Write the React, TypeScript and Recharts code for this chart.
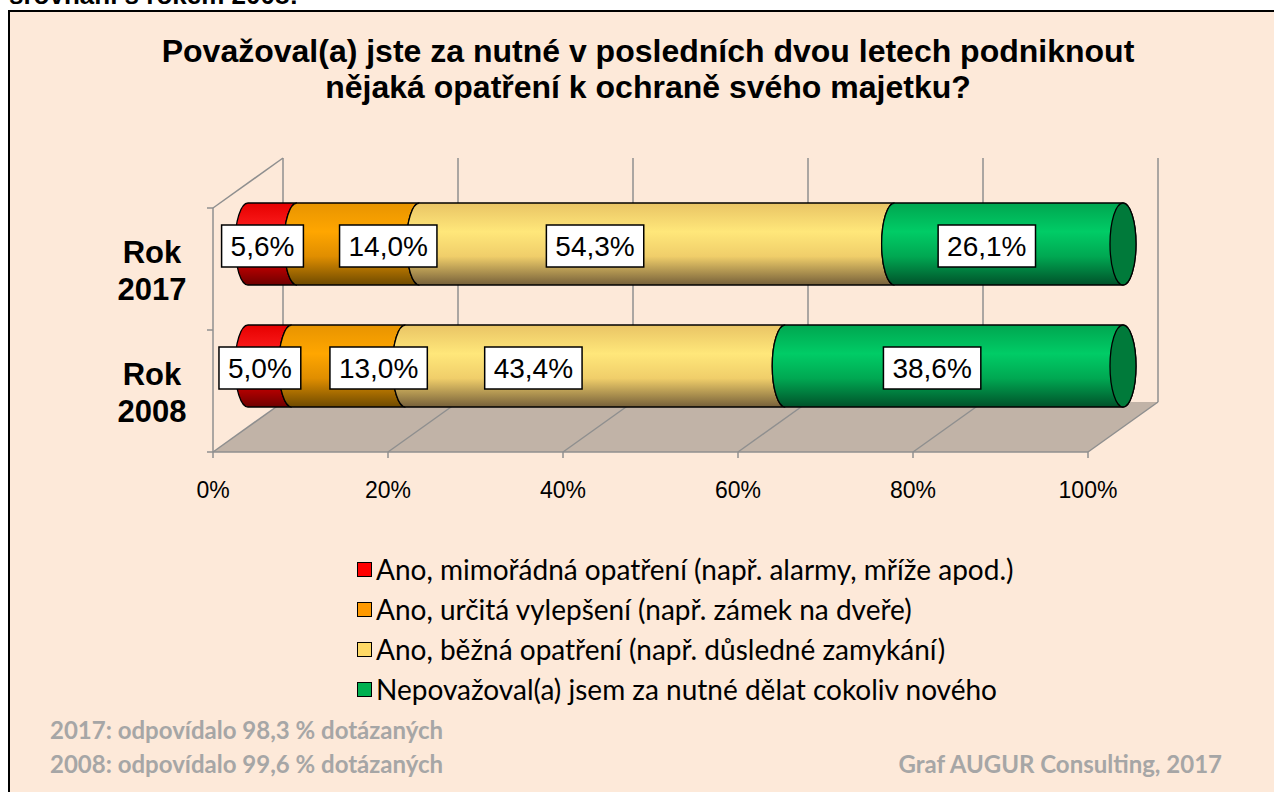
import React from 'react'
import { BarChart, Bar, XAxis, YAxis, ReferenceArea, LabelList, Legend } from 'recharts'

// Survey answers, share of respondents in %
const years = ['Rok 2017', 'Rok 2008']
const extraordinary = [5.6, 5.0]
const improvements = [14.0, 13.0]
const usual = [54.3, 43.4]
const nothing = [26.1, 38.6]
const xTicks = [0, 20, 40, 60, 80, 100]

const data = years.map((year, i) => ({
  year,
  extraordinary: extraordinary[i],
  improvements: improvements[i],
  usual: usual[i],
  nothing: nothing[i],
}))

interface SeriesStyle {
  key: string
  name: string
  color: string
  stops: string[]
  labelShift: number
  cap?: string
}

const series: SeriesStyle[] = [
  {
    key: 'extraordinary',
    name: 'Ano, mimořádná opatření (např. alarmy, mříže apod.)',
    color: '#FF0000',
    stops: ['#E60000', '#FF2020', '#E00000', '#6E0000'],
    labelShift: -10,
  },
  {
    key: 'improvements',
    name: 'Ano, určitá vylepšení (např. zámek na dveře)',
    color: '#FF9900',
    stops: ['#E89400', '#FFA600', '#E08E00', '#6E4A00'],
    labelShift: 30,
  },
  {
    key: 'usual',
    name: 'Ano, běžná opatření (např. důsledné zamykání)',
    color: '#FFD966',
    stops: ['#E9C465', '#FFE77A', '#F0CE6A', '#76603A'],
    labelShift: -62,
  },
  {
    key: 'nothing',
    name: 'Nepovažoval(a) jsem za nutné dělat cokoliv nového',
    color: '#00B050',
    stops: ['#00A650', '#00CC66', '#00A852', '#00522A'],
    labelShift: -22,
    cap: '#007A3A',
  },
]

const ARIAL = '"Liberation Sans", Arial, sans-serif'
const CALIBRI = 'Lato, "Open Sans", sans-serif'
const DEPTH_X = 35
const DEPTH_Y = 25
const GRID = '#8F8F8F'
const LABEL_SIZE = 28

const fmt = (v: number) => v.toFixed(1).replace('.', ',') + '%'

const textWidth = (s: string, size: number) =>
  s.split('').reduce((w, c) => w + (c === ',' ? 0.278 : c === '%' ? 0.889 : 0.556) * size, 0)

// 3D "room": back wall, floor and left wall drawn around the plot area
const roomShape = (props: any) => {
  const { x, y, width, height } = props
  const fx = x - DEPTH_X
  const bx = x + DEPTH_X
  const fTop = y + DEPTH_Y
  const fBottom = y + height + DEPTH_Y
  const bTop = y - DEPTH_Y
  const bBottom = y + height - DEPTH_Y
  const span = xTicks[xTicks.length - 1] - xTicks[0]
  return (
    <g>
      <polygon
        points={`${fx},${fBottom} ${fx + width},${fBottom} ${bx + width},${bBottom} ${bx},${bBottom}`}
        fill="#C1B3A7"
      />
      {xTicks.map((t) => {
        const px = ((t - xTicks[0]) / span) * width
        return (
          <g key={t}>
            <line x1={bx + px} y1={bTop} x2={bx + px} y2={bBottom} stroke={GRID} strokeWidth={1.5} />
            <line x1={fx + px} y1={fBottom} x2={bx + px} y2={bBottom} stroke={GRID} strokeWidth={1.5} />
            <line x1={fx + px} y1={fBottom} x2={fx + px} y2={fBottom + 6} stroke={GRID} strokeWidth={1.5} />
          </g>
        )
      })}
      <line x1={fx} y1={fBottom} x2={fx + width} y2={fBottom} stroke={GRID} strokeWidth={1.5} />
      <line x1={fx} y1={fTop} x2={fx} y2={fBottom} stroke={GRID} strokeWidth={1.5} />
      <line x1={fx} y1={fTop} x2={bx} y2={bTop} stroke={GRID} strokeWidth={1.5} />
      {years.concat(['']).map((_, i) => {
        const ty = fTop + (i * (fBottom - fTop)) / years.length
        return <line key={i} x1={fx - 6} y1={ty} x2={fx} y2={ty} stroke={GRID} strokeWidth={1.5} />
      })}
    </g>
  )
}

const cylinder = (s: SeriesStyle, last: boolean) => (props: any) => {
  const { x, y, width, height, index } = props
  if (!width || width <= 0) return <g />
  const rx = 13
  const ry = height / 2
  const x1 = x + width
  const id = `grad-${s.key}-${index}`
  const right = last
    ? `A ${rx} ${ry} 0 0 0 ${x1} ${y}`
    : `A ${rx} ${ry} 0 0 1 ${x1} ${y}`
  const d = `M ${x} ${y} A ${rx} ${ry} 0 0 0 ${x} ${y + height} L ${x1} ${y + height} ${right} Z`
  return (
    <g>
      <defs>
        <linearGradient id={id} x1="0" y1="0" x2="0" y2="1">
          <stop offset="0" stopColor={s.stops[0]} />
          <stop offset="0.35" stopColor={s.stops[1]} />
          <stop offset="0.65" stopColor={s.stops[2]} />
          <stop offset="1" stopColor={s.stops[3]} />
        </linearGradient>
      </defs>
      <path d={d} fill={`url(#${id})`} stroke="#000" strokeWidth={1.3} />
      {last && s.cap && (
        <ellipse cx={x1} cy={y + ry} rx={rx} ry={ry} fill={s.cap} stroke="#000" strokeWidth={1.3} />
      )}
    </g>
  )
}

const boxLabel = (shift: number) => (props: any) => {
  const vb = props.viewBox ?? props
  const x = props.x ?? vb.x
  const y = props.y ?? vb.y
  const width = props.width ?? vb.width
  const height = props.height ?? vb.height
  if (props.value == null) return null
  const text = fmt(Number(props.value))
  const bw = textWidth(text, LABEL_SIZE) + 18
  const bh = 42
  const cx = x + width / 2 + shift
  const cy = y + height / 2 + 2
  return (
    <g>
      <rect x={cx - bw / 2} y={cy - bh / 2} width={bw} height={bh} fill="#fff" stroke="#000" strokeWidth={1.5} />
      <text x={cx} y={cy + 10} textAnchor="middle" fontSize={LABEL_SIZE} fontFamily={ARIAL} fill="#000">
        {text}
      </text>
    </g>
  )
}

const yearTick = (props: any) => {
  const { x, y, payload } = props
  const [a, b] = String(payload.value).split(' ')
  return (
    <g fontFamily={ARIAL} fontWeight="bold" fontSize={31} fill="#000">
      <text x={x - 96} y={y + 19} textAnchor="middle">{a}</text>
      <text x={x - 96} y={y + 56} textAnchor="middle">{b}</text>
    </g>
  )
}

const percentTick = (props: any) => {
  const { x, y, payload } = props
  return (
    <text x={x - DEPTH_X} y={y + 71} textAnchor="middle" fontFamily={ARIAL} fontSize={23} fill="#000">
      {payload.value}%
    </text>
  )
}

const LegendBox = () => (
  <div style={{ fontFamily: CALIBRI, fontSize: 28, color: '#000' }}>
    {series.map((s) => (
      <div key={s.key} style={{ display: 'flex', alignItems: 'center', height: 40 }}>
        <span
          style={{
            display: 'inline-block',
            width: 13,
            height: 13,
            background: s.color,
            border: '1px solid #000',
            marginRight: 4,
          }}
        />
        <span>{s.name}</span>
      </div>
    ))}
  </div>
)

export default function App() {
  return (
    <div
      style={{
        position: 'absolute',
        left: 0,
        top: 0,
        width: 1274,
        height: 792,
        overflow: 'hidden',
        background: '#fff',
      }}
    >
      <div
        style={{
          position: 'absolute',
          left: 9,
          top: -18,
          fontFamily: ARIAL,
          fontWeight: 'bold',
          fontSize: 26,
          lineHeight: '26px',
          color: '#000',
          whiteSpace: 'nowrap',
        }}
      >
        srovnání s rokem 2008:
      </div>
      <div
        style={{
          position: 'absolute',
          left: 8,
          top: 10,
          width: 1300,
          height: 800,
          border: '2px solid #000',
          background: '#FDE9D9',
        }}
      />
      <div
        style={{
          position: 'absolute',
          left: 0,
          top: 33,
          width: 1296,
          textAlign: 'center',
          fontFamily: ARIAL,
          fontWeight: 'bold',
          fontSize: 32,
          lineHeight: '36px',
          color: '#000',
          whiteSpace: 'nowrap',
        }}
      >
        Považoval(a) jste za nutné v posledních dvou letech podniknout
        <br />
        nějaká opatření k ochraně svého majetku?
      </div>
      <div style={{ position: 'absolute', left: 0, top: 0 }}>
        <BarChart
          width={1274}
          height={792}
          data={data}
          layout="vertical"
          margin={{ top: 183, right: 151, bottom: 335, left: 148 }}
        >
          <XAxis
            type="number"
            domain={[0, 100]}
            ticks={xTicks}
            height={30}
            axisLine={false}
            tickLine={false}
            tickSize={0}
            tickMargin={0}
            tick={percentTick}
            interval={0}
          />
          <YAxis
            type="category"
            dataKey="year"
            width={100}
            axisLine={false}
            tickLine={false}
            tickSize={0}
            tickMargin={0}
            tick={yearTick}
          />
          <ReferenceArea x1={0} x2={100} shape={roomShape} ifOverflow="visible" />
          {series.map((s, i) => (
            <Bar
              key={s.key}
              dataKey={s.key}
              name={s.name}
              stackId="a"
              barSize={82}
              fill={s.color}
              shape={cylinder(s, i === series.length - 1)}
              isAnimationActive={false}
            >
              <LabelList dataKey={s.key} content={boxLabel(s.labelShift)} />
            </Bar>
          ))}
          <Legend
            layout="vertical"
            align="center"
            verticalAlign="middle"
            content={<LegendBox />}
            wrapperStyle={{ position: 'absolute', left: 357, top: 549, width: 760 }}
          />
        </BarChart>
      </div>
      <div
        style={{
          position: 'absolute',
          left: 50,
          top: 713,
          fontFamily: CALIBRI,
          fontWeight: 'bold',
          fontSize: 24,
          lineHeight: '34px',
          color: '#A6A6A6',
          whiteSpace: 'nowrap',
        }}
      >
        2017: odpovídalo 98,3 % dotázaných
        <br />
        2008: odpovídalo 99,6 % dotázaných
      </div>
      <div
        style={{
          position: 'absolute',
          right: 52,
          top: 747,
          fontFamily: CALIBRI,
          fontWeight: 'bold',
          fontSize: 24,
          lineHeight: '34px',
          color: '#A6A6A6',
          whiteSpace: 'nowrap',
        }}
      >
        Graf AUGUR Consulting, 2017
      </div>
    </div>
  )
}
